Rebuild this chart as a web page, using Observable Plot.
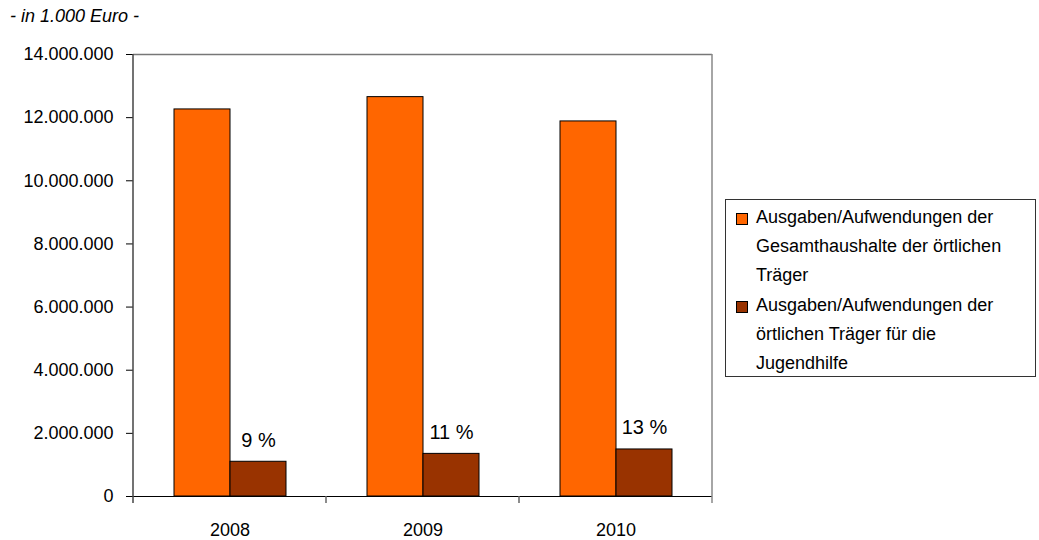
<!DOCTYPE html>
<html lang="de">
<head>
<meta charset="utf-8">
<script src="https://cdn.jsdelivr.net/npm/d3@7"></script>
<script src="https://cdn.jsdelivr.net/npm/@observablehq/plot@0.6"></script>
<style>
  html, body { margin: 0; padding: 0; background: #fff; }
  #wrap { position: relative; width: 1039px; height: 540px; font-family: "Liberation Sans", Arial, sans-serif; color: #000; }
  #unit { position: absolute; left: 10px; top: 6px; font-size: 18px; font-style: italic; }
  #legend { position: absolute; left: 725px; top: 199px; width: 311px; height: 178px; border: 1px solid #333; box-sizing: border-box; font-size: 18px; line-height: 29px; }
  .entry { position: absolute; left: 30px; }
  .swatch { position: absolute; left: -20px; top: 10px; width: 10px; height: 10px; border: 1px solid #000; }
</style>
</head>
<body>
<div id="wrap">
  <div id="unit">- in 1.000 Euro -</div>
  <div id="legend"></div>
</div>
<script>
// Jahre und Ausgaben (in 1.000 Euro)
const years = [2008, 2009, 2010];
const totalSpending = [12260000, 12650000, 11880000];
const youthSpending = [1100000, 1350000, 1490000];
const shareLabels = ["9 %", "11 %", "13 %"];
const seriesKeys = ["gesamt", "jugend"];
const seriesNames = [
  "Ausgaben/Aufwendungen der<br>Gesamthaushalte der örtlichen<br>Träger",
  "Ausgaben/Aufwendungen der<br>örtlichen Träger für die<br>Jugendhilfe"
];
const seriesColors = ["#ff6600", "#993300"];
const yTicks = [0, 2000000, 4000000, 6000000, 8000000, 10000000, 12000000, 14000000];

const rows = years.flatMap((year, i) => [
  {year, series: seriesKeys[0], value: totalSpending[i]},
  {year, series: seriesKeys[1], value: youthSpending[i], label: shareLabels[i]}
]);

const de = d3.formatLocale({decimal: ",", thousands: ".", grouping: [3], currency: ["", " €"]});
const fmt = de.format(",");

const chart = Plot.plot({
  width: 1039,
  height: 540,
  marginLeft: 132,
  marginRight: 327,
  marginTop: 54,
  marginBottom: 44,
  style: {fontFamily: "Liberation Sans, Arial, sans-serif", fontSize: "18px", color: "#000", background: "#fff"},
  fx: {domain: years, padding: 0, tickSize: 0, tickPadding: 27, tickFormat: d => String(d), label: null},
  x: {domain: seriesKeys, paddingInner: 0, paddingOuter: 0.71, axis: null},
  y: {domain: [0, 14000000], ticks: yTicks, tickFormat: fmt, tickSize: 7, tickPadding: 13, label: null},
  color: {domain: seriesKeys, range: seriesColors},
  marks: [
    Plot.ruleY([14000000], {stroke: "#777", strokeWidth: 1.5}),
    Plot.barY(rows, {fx: "year", x: "series", y: "value", fill: "series", stroke: "#000", strokeWidth: 1}),
    Plot.ruleY([0], {stroke: "#000", strokeWidth: 1}),
    Plot.text(rows.filter(d => d.label), {fx: "year", x: "series", y: "value", text: "label",
      lineAnchor: "bottom", dy: -15, fill: "#000", fontSize: 20})
  ]
});

document.getElementById("wrap").prepend(chart);
chart.style.position = "absolute";
chart.style.left = "0";
chart.style.top = "0";

// Left axis line, right border and category separators, placed from the fx scale
const fx = chart.scale("fx");
const y = chart.scale("y");
const yTop = y.apply(14000000), yBase = y.apply(0);
const left = fx.apply(years[0]);
const right = fx.apply(years[years.length - 1]) + fx.bandwidth;
const svg = d3.select(chart);
const g = svg.append("g").attr("stroke-width", 1.5);
g.append("line").attr("x1", left).attr("x2", left).attr("y1", yTop).attr("y2", yBase + 7).attr("stroke", "#444");
g.append("line").attr("x1", right).attr("x2", right).attr("y1", yTop).attr("y2", yBase + 7).attr("stroke", "#888");
years.slice(1).forEach(yr => {
  const x = fx.apply(yr);
  g.append("line").attr("x1", x).attr("x2", x).attr("y1", yBase).attr("y2", yBase + 7).attr("stroke", "#666");
});

// Legend entries
const legend = document.getElementById("legend");
const tops = [3, 91];
seriesNames.forEach((name, i) => {
  const e = document.createElement("div");
  e.className = "entry";
  e.style.top = tops[i] + "px";
  e.innerHTML = `<span class="swatch" style="background:${seriesColors[i]}"></span>${name}`;
  legend.appendChild(e);
});
</script>
</body>
</html>
